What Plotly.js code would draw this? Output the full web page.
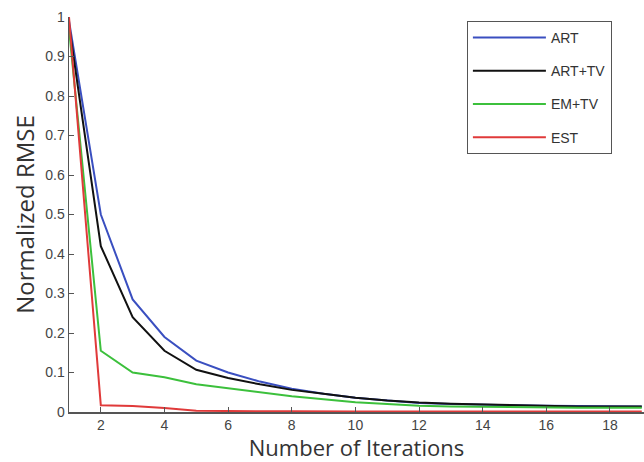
<!DOCTYPE html>
<html><head><meta charset="utf-8">
<script src="https://cdn.plot.ly/plotly-3.0.1.min.js"></script>
<style>html,body{margin:0;padding:0;background:#fff}#chart{width:644px;height:462px}</style>
</head><body><div id="chart"></div>
<script>
const iterations = [1,2,3,4,5,6,7,8,9,10,11,12,13,14,15,16,17,18,19];
const art   = [0.99,0.50,0.285,0.19,0.13,0.10,0.077,0.059,0.046,0.036,0.029,0.023,0.020,0.018,0.017,0.016,0.015,0.014,0.014];
const artTv = [0.98,0.42,0.24,0.155,0.107,0.086,0.070,0.056,0.046,0.036,0.029,0.024,0.021,0.019,0.017,0.015,0.014,0.014,0.014];
const emTv  = [0.97,0.155,0.10,0.088,0.070,0.060,0.050,0.040,0.032,0.025,0.020,0.016,0.014,0.013,0.012,0.011,0.011,0.011,0.011];
const est   = [1.0,0.017,0.015,0.010,0.003,0.002,0.002,0.002,0.001,0.001,0.001,0.001,0.001,0.001,0.001,0.001,0.001,0.001,0.001];
const names = ['ART','ART+TV','EM+TV','EST'];
const colors = ['#3a4fc0','#111111','#3cc03c','#e03a3a'];
const series = [art, artTv, emTv, est];

const traces = series.map((s,i)=>({
  x: iterations, y: s, type:'scatter', mode:'lines', name: names[i],
  legendgroup: 'g'+i,
  line:{color:colors[i], width:2}
}));

const layout = {
  width:644, height:462,
  margin:{l:69, r:0, t:17, b:50},
  paper_bgcolor:'#fff', plot_bgcolor:'#fff',
  font:{family:'Liberation Sans, Arial, sans-serif', color:'#444'},
  showlegend:true,
  legend:{x:0.692, y:0.99, xanchor:'left', yanchor:'top',
    bordercolor:'#555', borderwidth:1, bgcolor:'#fff',
    font:{size:14, color:'#333', family:'Liberation Sans, Arial, sans-serif'},
    tracegroupgap:12, itemwidth:73, entrywidth:190, entrywidthmode:'pixels'},
  xaxis:{range:[1,19.07], tickvals:[2,4,6,8,10,12,14,16,18], ticks:'inside', ticklen:5,
    tickcolor:'#555', showline:true, linecolor:'#555', linewidth:1.5, showgrid:false, zeroline:false,
    tickfont:{size:14, color:'#444'},
    title:{text:'Number of Iterations', font:{family:'Open Sans, sans-serif', size:22, color:'#333'}, standoff:0}},
  yaxis:{range:[0,1], tickvals:[0,0.1,0.2,0.3,0.4,0.5,0.6,0.7,0.8,0.9,1], ticktext:['0','0.1','0.2','0.3','0.4','0.5','0.6','0.7','0.8','0.9','1'],
    ticks:'inside', ticklen:5, tickcolor:'#555', showline:true, linecolor:'#555', linewidth:1.5,
    showgrid:false, zeroline:false, tickfont:{size:14, color:'#444'},
    title:{text:'Normalized RMSE', font:{family:'Open Sans, sans-serif', size:24, color:'#333'}, standoff:4}}
};
Plotly.newPlot('chart', traces, layout, {displayModeBar:false, staticPlot:true});
</script></body></html>
